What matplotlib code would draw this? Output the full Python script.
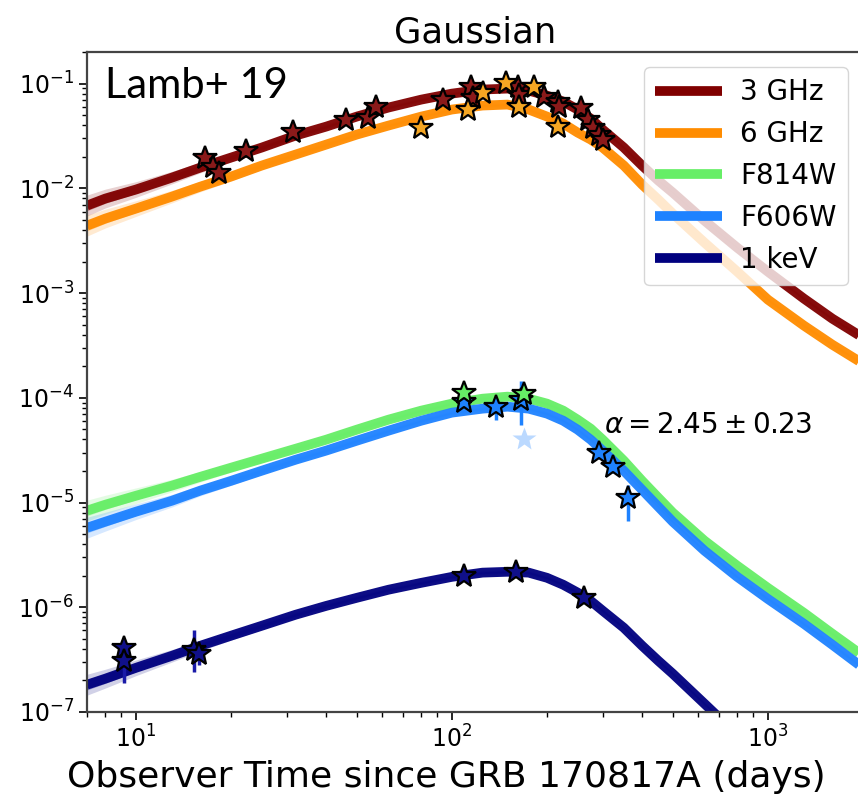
import matplotlib
matplotlib.use("Agg")
import matplotlib.pyplot as plt
import numpy as np

# model time grid (days) shared by all light curves
t_model = [7, 8, 10, 13, 16, 20, 25, 32, 40, 50, 63, 80, 100, 125, 150, 175,
           200, 225, 250, 275, 300, 350, 400, 450, 500, 630, 800, 1000, 1300,
           1600, 2000]

# half-width of the posterior bundle (dex) along t_model
spread_dex = [0.10, 0.09, 0.075, 0.06, 0.05, 0.042, 0.036, 0.03, 0.027, 0.024,
              0.022, 0.02, 0.02, 0.02, 0.02, 0.02, 0.02, 0.02, 0.02, 0.02,
              0.02, 0.02, 0.02, 0.02, 0.02, 0.02, 0.02, 0.02, 0.02, 0.02, 0.02]

model_3ghz = [6.84e-3, 7.98e-3, 9.73e-3, 1.265e-2, 1.578e-2, 1.965e-2, 2.447e-2,
              3.186e-2, 3.881e-2, 4.839e-2, 5.902e-2, 7.028e-2, 8.017e-2,
              8.764e-2, 8.955e-2, 8.570e-2, 7.674e-2, 6.73e-2, 5.648e-2,
              4.63e-2, 3.638e-2, 2.45e-2, 1.648e-2, 1.186e-2, 9.10e-3,
              4.91e-3, 2.71e-3, 1.60e-3, 8.85e-4, 5.69e-4, 3.75e-4]
model_6ghz = [4.40e-3, 5.14e-3, 6.40e-3, 8.33e-3, 1.038e-2, 1.294e-2, 1.648e-2,
              2.099e-2, 2.614e-2, 3.258e-2, 3.972e-2, 4.839e-2, 5.648e-2,
              6.166e-2, 6.300e-2, 5.648e-2, 4.839e-2, 4.15e-2, 3.404e-2,
              2.92e-2, 2.447e-2, 1.65e-2, 1.084e-2, 7.80e-3, 5.73e-3,
              3.03e-3, 1.60e-3, 8.65e-4, 4.89e-4, 3.21e-4, 2.12e-4]
model_f814w = [8.36e-6, 9.53e-6, 1.16e-5, 1.45e-5, 1.76e-5, 2.15e-5, 2.62e-5,
               3.26e-5, 3.98e-5, 4.96e-5, 6.18e-5, 7.54e-5, 8.79e-5, 9.80e-5,
               1.025e-4, 9.80e-5, 8.79e-5, 7.54e-5, 6.18e-5, 5.07e-5, 3.98e-5,
               2.51e-5, 1.61e-5, 1.11e-5, 8.00e-6, 4.32e-6, 2.49e-6, 1.53e-6,
               8.85e-7, 5.58e-7, 3.44e-7]
model_f606w = [5.74e-6, 6.56e-6, 8.17e-6, 1.04e-5, 1.30e-5, 1.61e-5, 2.01e-5,
               2.56e-5, 3.13e-5, 3.89e-5, 4.85e-5, 6.04e-5, 7.21e-5, 7.87e-5,
               8.22e-5, 7.87e-5, 7.05e-5, 6.04e-5, 4.96e-5, 3.98e-5, 3.13e-5,
               2.01e-5, 1.32e-5, 9.12e-6, 6.56e-6, 3.47e-6, 1.95e-6, 1.20e-6,
               6.95e-7, 4.38e-7, 2.64e-7]
model_1kev = [1.82e-7, 2.08e-7, 2.64e-7, 3.44e-7, 4.29e-7, 5.35e-7, 6.65e-7,
              8.48e-7, 1.03e-6, 1.23e-6, 1.47e-6, 1.71e-6, 1.95e-6, 2.14e-6,
              2.18e-6, 2.14e-6, 1.91e-6, 1.64e-6, 1.38e-6, 1.15e-6, 9.27e-7,
              6.37e-7, 4.29e-7, 3.08e-7, 2.32e-7, 1.20e-7, 6.05e-8, 3.0e-8,
              1.4e-8, 8e-9, 5e-9]

# observations (days, flux)
t_3ghz = [16.6, 17.5, 18.3, 22.3, 31.4, 46.2, 54.2, 57.5, 93.7, 114.8, 116.5,
          161.7, 163, 195.5, 216, 218, 256, 269, 279, 292, 300]
f_3ghz = [0.0196, 0.0158, 0.0141, 0.0225, 0.0348, 0.0453, 0.0473, 0.0603,
          0.0703, 0.0936, 0.0735, 0.0936, 0.0785, 0.0751, 0.0673, 0.0603,
          0.059, 0.0453, 0.038, 0.0326, 0.0292]

t_6ghz = [79.8, 112.5, 125.4, 148, 163, 182, 216]
f_6ghz = [0.038, 0.0565, 0.082, 0.102, 0.0603, 0.0936, 0.0388]

t_f814w = [109, 169]
f_f814w = [1.12e-4, 1.09e-4]

t_f606w = [109, 138, 165, 292, 323, 360]
f_f606w = [9.2e-5, 8.2e-5, 9.6e-5, 2.99e-5, 2.2e-5, 1.11e-5]
lo_f606w = [8.4e-5, 6.2e-5, 5.5e-5, 2.6e-5, 1.9e-5, 6.6e-6]
hi_f606w = [1.0e-4, 9.4e-5, 1.43e-4, 3.4e-5, 2.5e-5, 1.48e-5]

t_f606w_faint = [169]
f_f606w_faint = [4.0e-5]

t_1kev = [9.16, 9.16, 15.3, 15.8, 109, 159, 261]
f_1kev = [4.1e-7, 3.1e-7, 3.9e-7, 3.6e-7, 2.0e-6, 2.18e-6, 1.23e-6]
lo_1kev = [3.4e-7, 1.9e-7, 2.4e-7, 2.8e-7, 1.8e-6, 2.0e-6, 1.1e-6]
hi_1kev = [4.9e-7, 4.0e-7, 6.1e-7, 4.6e-7, 2.2e-6, 2.35e-6, 1.35e-6]

bands = ["3 GHz", "6 GHz", "F814W", "F606W", "1 keV"]
colors = ["#800000", "#ff8c00", "#66ee66", "#1e82ff", "#00007f"]
models = [model_3ghz, model_6ghz, model_f814w, model_f606w, model_1kev]

fig = plt.figure(figsize=(8.58, 7.98), dpi=100)
ax = fig.add_axes([0.1014, 0.1078, 0.9044, 0.827])

t = np.array(t_model)
s = np.array(spread_dex)
for name, c, m in zip(bands, colors, models):
    m = np.array(m)
    ax.fill_between(t, m * 10**-s, m * 10**s, color=c, alpha=0.18, lw=0)
    ax.fill_between(t, m * 10**(-s / 2), m * 10**(s / 2), color=c, alpha=0.3, lw=0)
    ax.plot(t, m, color=c, lw=7, alpha=0.95, label=name,
            solid_capstyle="butt", solid_joinstyle="round")

star = dict(marker="*", ms=18, mec="black", mew=1.6, ls="none", zorder=5)

ax.plot(t_3ghz, f_3ghz, mfc="#8b1a1a", **star)
ax.plot(t_6ghz, f_6ghz, mfc="#f5a623", **star)

ax.errorbar(t_f606w, f_f606w,
            yerr=[np.array(f_f606w) - np.array(lo_f606w),
                  np.array(hi_f606w) - np.array(f_f606w)],
            fmt="none", ecolor=colors[3], elinewidth=2.5, zorder=4)
ax.plot(t_f606w_faint, f_f606w_faint, marker="*", ms=18, ls="none",
        color=colors[3], alpha=0.3, mec="none", zorder=4)
ax.plot(t_f606w, f_f606w, mfc=colors[3], **star)
ax.plot(t_f814w, f_f814w, mfc=colors[2], **star)

ax.errorbar(t_1kev, f_1kev,
            yerr=[np.array(f_1kev) - np.array(lo_1kev),
                  np.array(hi_1kev) - np.array(f_1kev)],
            fmt="none", ecolor="#1a1aa8", elinewidth=2.5, zorder=4)
ax.plot(t_1kev, f_1kev, mfc="#10108a", **star)

ax.set_xscale("log")
ax.set_yscale("log")
ax.set_xlim(7, 2000)
ax.set_ylim(1e-7, 0.2)

ax.tick_params(which="major", labelsize=17, length=6, width=1.2)
ax.tick_params(which="minor", length=3.5, width=1)
for side in ["left", "bottom", "top"]:
    ax.spines[side].set_color("#444444")
    ax.spines[side].set_linewidth(1.6)
ax.spines["right"].set_visible(False)

ax.set_title("Gaussian", fontsize=25.5, pad=7)
ax.set_xlabel("Observer Time since GRB 170817A (days)", fontsize=26)
ax.xaxis.set_label_coords(0.463, -0.114, transform=ax.transAxes)
ax.xaxis.label.set_va("baseline")

ax.text(0.023, 0.93, "Lamb+ 19", transform=ax.transAxes, fontsize=30,
        family="Lato", va="baseline", ha="left")
ax.text(303, 5.5e-5, r"$\alpha = 2.45 \pm 0.23$", fontsize=20,
        ha="left", va="center")

leg = ax.legend(loc="upper right", fontsize=20, handlelength=2.4,
                handletextpad=0.65, borderaxespad=0.55, fancybox=True)
for line in leg.get_lines():
    line.set_linewidth(7)
    line.set_alpha(1)

fig.savefig("out.png", dpi=100)
